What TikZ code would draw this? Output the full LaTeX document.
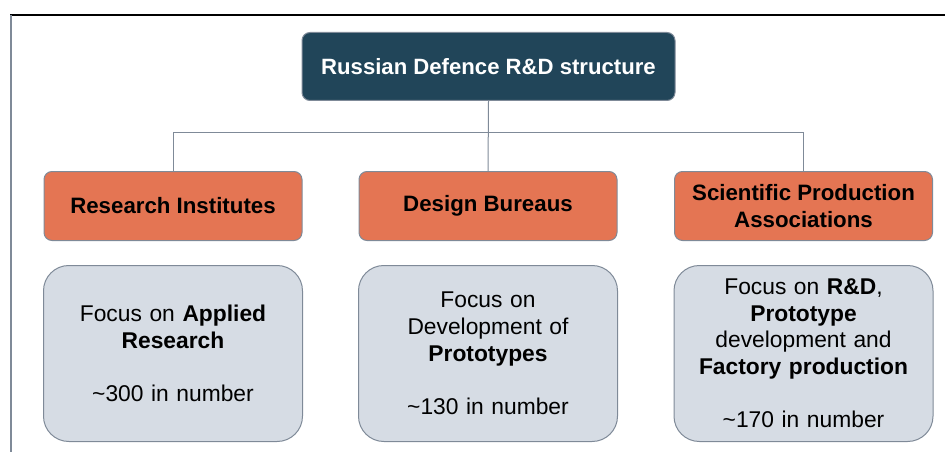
\documentclass[tikz,border=0pt]{standalone}
\usepackage{fontspec}
\setmainfont{Liberation Sans}
\definecolor{navy}{HTML}{214559}
\definecolor{rust}{HTML}{E47553}
\definecolor{mist}{HTML}{D6DCE4}
\definecolor{edge}{HTML}{7F8A98}
\tikzset{
  base/.style={draw=edge, line width=0.75pt, align=center, inner sep=0pt,
    font=\fontsize{16.5}{19.8}\selectfont},
  headbox/.style={base, fill=navy, text=white, font=\fontsize{16.6}{19.8}\selectfont\bfseries,
    rounded corners=6pt, minimum width=279.75pt, minimum height=51pt},
  catbox/.style={base, fill=rust, text=black, font=\fontsize{16.7}{19.8}\selectfont\bfseries,
    rounded corners=6pt, minimum width=193.5pt, minimum height=51.75pt},
  infobox/.style={base, fill=mist, text=black, text width=185pt,
    font=\fontsize{17.1}{20}\selectfont,
    rounded corners=19pt, minimum width=194.25pt, minimum height=132pt},
  conn/.style={draw=edge, line width=0.75pt}
}
\begin{document}
\begin{tikzpicture}[x=0.75pt,y=-0.75pt]
\useasboundingbox (0,0) rectangle (945,456);
% page frame
\draw[black, line width=0.9pt] (10,15) -- (945,15);
\draw[edge, line width=0.9pt] (11,15) -- (11,452);

\node[headbox] (title) at (488.5,66.5) {Russian Defence R\&D structure};

\node[catbox] (ri)  at (173,206)   {Research Institutes};
\node[catbox] (db)  at (488,206)   {Design Bureaus};
\node[catbox] (spa) at (803.5,206) {Scientific Production\\Associations};

\node[infobox] (riinfo)  at (173,353.5)   {Focus on \textbf{Applied}\\\textbf{Research}\\[20pt]\textasciitilde300 in number};
\node[infobox] (dbinfo)  at (488,353.5)   {Focus on\\Development of\\\textbf{Prototypes}\\[20pt]\textasciitilde130 in number};
\node[infobox] (spainfo) at (803.5,353.5) {Focus on \textbf{R\&D},\\\textbf{Prototype}\\development and\\\textbf{Factory production}\\[20pt]\textasciitilde170 in number};

% connectors
\coordinate (bus) at (0,133);
\draw[conn] (title.south) -- (db.north);
\draw[conn] (ri.north) -- (ri.north |- bus) -- (spa.north |- bus) -- (spa.north);
\end{tikzpicture}
\end{document}
